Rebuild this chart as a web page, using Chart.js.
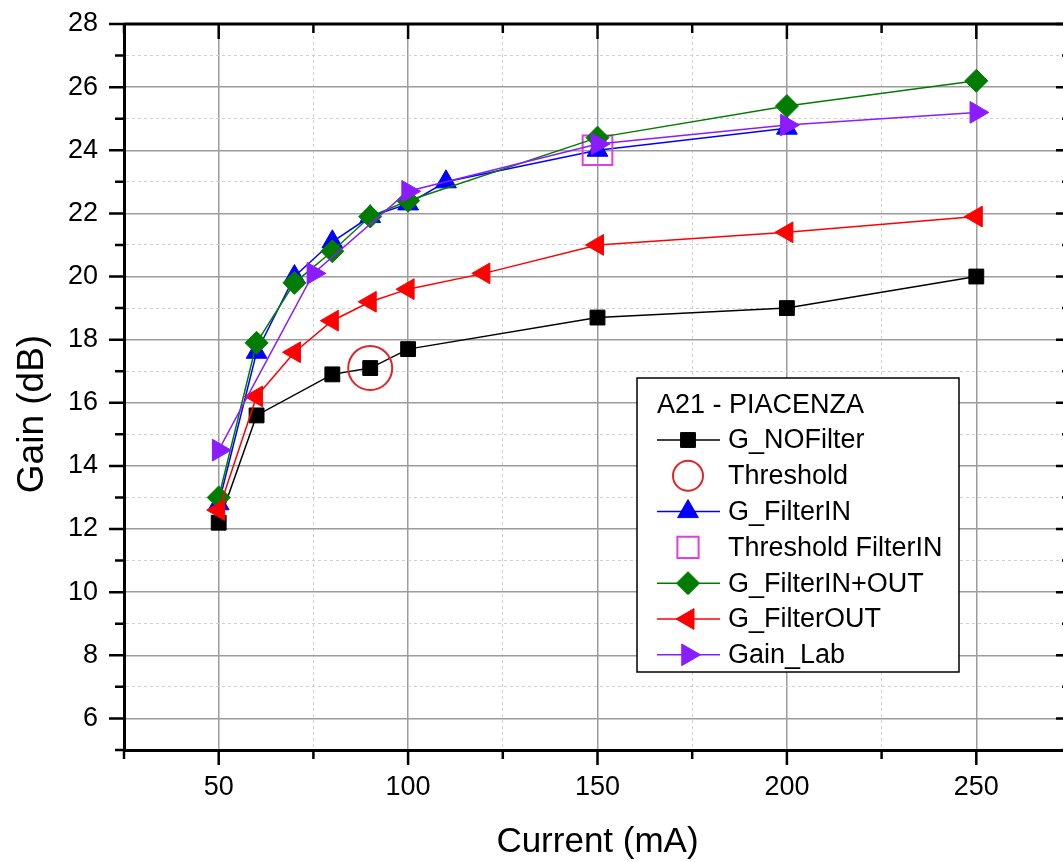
<!DOCTYPE html>
<html>
<head>
<meta charset="utf-8">
<title>A21 - PIACENZA Gain</title>
<script src="https://cdn.jsdelivr.net/npm/chart.js@4/dist/chart.umd.min.js"></script>
<style>
    html, body { margin: 0; padding: 0; background: #fff; overflow: hidden; }
    #wrap { width: 1095px; height: 862px; }
</style>
</head>
<body>
<div id="wrap"><canvas id="gainChart" width="1095" height="862"></canvas></div>
<script>
// values
const currentNoFilter = [50, 60, 80, 90, 100, 150, 200, 250];
const gainNoFilter = [12.2, 15.6, 16.9, 17.1, 17.7, 18.7, 19.0, 20.0];

const currentThreshold = [90];
const gainThreshold = [17.1];

const currentFilterIn = [50, 60, 70, 80, 90, 100, 110, 150, 200];
const gainFilterIn = [12.8, 17.6, 20.0, 21.1, 21.9, 22.3, 23.0, 24.0, 24.7];

const currentThresholdFilterIn = [150];
const gainThresholdFilterIn = [24.0];

const currentFilterInOut = [50, 60, 70, 80, 90, 100, 150, 200, 250];
const gainFilterInOut = [13.0, 17.9, 19.8, 20.8, 21.9, 22.4, 24.4, 25.4, 26.2];

const currentFilterOut = [50, 60, 70, 80, 90, 100, 120, 150, 200, 250];
const gainFilterOut = [12.6, 16.2, 17.6, 18.6, 19.2, 19.6, 20.1, 21.0, 21.4, 21.9];

const currentLab = [50, 75, 100, 150, 200, 250];
const gainLab = [14.5, 20.1, 22.7, 24.2, 24.8, 25.2];

const xTickValues = [50, 100, 150, 200, 250];
const yTickValues = [6, 8, 10, 12, 14, 16, 18, 20, 22, 24, 26, 28];

const legendTitle = 'A21 - PIACENZA';
const FONT = "'Liberation Sans', Arial, sans-serif";

function pts(xs, ys) {
    return xs.map((x, i) => ({ x: x, y: ys[i] }));
}

function lineSet(label, xs, ys, color, style, radius, rotation) {
    return {
        label: label,
        data: pts(xs, ys),
        showLine: true,
        borderColor: color,
        backgroundColor: color,
        borderWidth: 1.5,
        pointStyle: style,
        pointRadius: radius,
        pointRotation: rotation || 0,
        pointBorderWidth: 1,
        tension: 0
    };
}

function markSet(label, xs, ys, color, style, radius) {
    return {
        label: label,
        data: pts(xs, ys),
        showLine: false,
        borderColor: color,
        backgroundColor: 'rgba(0,0,0,0)',
        pointStyle: style,
        pointRadius: radius,
        pointBorderWidth: 2
    };
}

const datasets = [
    lineSet('G_NOFilter', currentNoFilter, gainNoFilter, '#000000', 'rect', 10.5),
    markSet('Threshold', currentThreshold, gainThreshold, '#e0262a', 'circle', 22),
    lineSet('G_FilterIN', currentFilterIn, gainFilterIn, '#0000ff', 'triangle', 12),
    markSet('Threshold FilterIN', currentThresholdFilterIn, gainThresholdFilterIn, '#e040e0', 'rect', 21),
    lineSet('G_FilterIN+OUT', currentFilterInOut, gainFilterInOut, '#007d00', 'rectRot', 11.5),
    lineSet('G_FilterOUT', currentFilterOut, gainFilterOut, '#ff0000', 'triangle', 12, -90),
    lineSet('Gain_Lab', currentLab, gainLab, '#8a1cff', 'triangle', 12.5, 90)
];
// first legend entry at the bottom of the stack, like the original
datasets.forEach((ds, i) => { ds.order = datasets.length - i; });

// tick marks, frame and axis titles
const frame = {
    id: 'frame',
    afterDraw(chart) {
        const ctx = chart.ctx;
        const a = chart.chartArea;
        const xs = chart.scales.x, ys = chart.scales.y;
        ctx.save();
        ctx.strokeStyle = '#000';
        ctx.lineWidth = 2.5;
        ys.ticks.forEach(t => {
            const p = ys.getPixelForValue(t.value);
            const len = yTickValues.includes(t.value) ? 15 : 9;
            ctx.beginPath();
            ctx.moveTo(a.left - len, p); ctx.lineTo(a.left, p);
            ctx.moveTo(a.right, p); ctx.lineTo(a.right - len, p);
            ctx.stroke();
        });
        xs.ticks.forEach(t => {
            const p = xs.getPixelForValue(t.value);
            const len = xTickValues.includes(t.value) ? 15 : 9;
            ctx.beginPath();
            ctx.moveTo(p, a.bottom); ctx.lineTo(p, a.bottom + len);
            ctx.moveTo(p, a.top); ctx.lineTo(p, a.top + len);
            ctx.stroke();
        });
        ctx.lineWidth = 3;
        ctx.beginPath();
        ctx.moveTo(a.left, a.top); ctx.lineTo(a.right, a.top); ctx.lineTo(a.right, a.bottom);
        ctx.stroke();

        ctx.fillStyle = '#000';
        ctx.font = '35px ' + FONT;
        ctx.textAlign = 'center';
        ctx.textBaseline = 'middle';
        ctx.fillText('Current (mA)', (a.left + a.right) / 2, 842);
        ctx.translate(33, 414);
        ctx.rotate(-Math.PI / 2);
        ctx.font = '37px ' + FONT;
        ctx.fillText('Gain (dB)', 0, 0);
        ctx.restore();
    }
};

// boxed legend inside the plot
const boxLegend = {
    id: 'boxLegend',
    afterDatasetsDraw(chart) {
        const ctx = chart.ctx;
        const left = 637, top = 378, w = 322, h = 294;
        ctx.save();
        ctx.fillStyle = '#fff';
        ctx.fillRect(left, top, w, h);
        ctx.strokeStyle = '#000';
        ctx.lineWidth = 1.5;
        ctx.strokeRect(left, top, w, h);

        ctx.fillStyle = '#000';
        ctx.font = '27px ' + FONT;
        ctx.textAlign = 'left';
        ctx.textBaseline = 'middle';
        ctx.fillText(legendTitle, 657, 406);

        chart.data.datasets.forEach((ds, i) => {
            const y = 440 + i * 35.8;
            if (ds.showLine) {
                ctx.strokeStyle = ds.borderColor;
                ctx.lineWidth = 1.5;
                ctx.beginPath();
                ctx.moveTo(657, y); ctx.lineTo(720, y);
                ctx.stroke();
            }
            ctx.fillStyle = ds.backgroundColor;
            ctx.strokeStyle = ds.borderColor;
            ctx.lineWidth = ds.pointBorderWidth;
            Chart.helpers.drawPoint(ctx, {
                pointStyle: ds.pointStyle,
                rotation: ds.pointRotation || 0,
                radius: Math.min(ds.pointRadius, 15),
                borderWidth: ds.pointBorderWidth
            }, 688, y);
            ctx.fillStyle = '#000';
            ctx.fillText(ds.label, 728, y + 1);
        });
        ctx.restore();
    }
};

new Chart(document.getElementById('gainChart').getContext('2d'), {
    type: 'scatter',
    data: { datasets: datasets },
    options: {
        responsive: false,
        animation: false,
        layout: { padding: { top: 22, right: 10, left: 0, bottom: 0 } },
        plugins: {
            legend: { display: false },
            tooltip: { enabled: false }
        },
        scales: {
            x: {
                type: 'linear',
                min: 25,
                max: 275,
                afterFit: s => { s.height = 112; s.paddingLeft = 0; s.paddingRight = 0; },
                ticks: {
                    stepSize: 25,
                    autoSkip: false,
                    maxRotation: 0,
                    padding: 21,
                    color: '#000',
                    font: { family: FONT, size: 27 },
                    callback: v => xTickValues.includes(v) ? v : ''
                },
                grid: {
                    drawTicks: false,
                    color: c => c.tick && xTickValues.includes(c.tick.value) ? '#9c9c9c' : '#d0d0d0',
                    lineWidth: c => c.tick && xTickValues.includes(c.tick.value) ? 1.5 : 1
                },
                border: {
                    color: '#000',
                    width: 3,
                    dash: c => c.tick && !xTickValues.includes(c.tick.value) ? [3, 3] : []
                }
            },
            y: {
                min: 5,
                max: 28,
                afterFit: s => { s.width = 124; s.paddingTop = 0; s.paddingBottom = 0; },
                ticks: {
                    stepSize: 1,
                    maxTicksLimit: 100,
                    autoSkip: false,
                    padding: 26,
                    color: '#000',
                    font: { family: FONT, size: 27 },
                    callback: v => yTickValues.includes(v) ? v : ''
                },
                grid: {
                    drawTicks: false,
                    color: c => c.tick && yTickValues.includes(c.tick.value) ? '#9c9c9c' : '#d0d0d0',
                    lineWidth: c => c.tick && yTickValues.includes(c.tick.value) ? 1.5 : 1
                },
                border: {
                    color: '#000',
                    width: 3,
                    dash: c => c.tick && !yTickValues.includes(c.tick.value) ? [3, 3] : []
                }
            }
        }
    },
    plugins: [boxLegend, frame]
});
</script>
</body>
</html>
